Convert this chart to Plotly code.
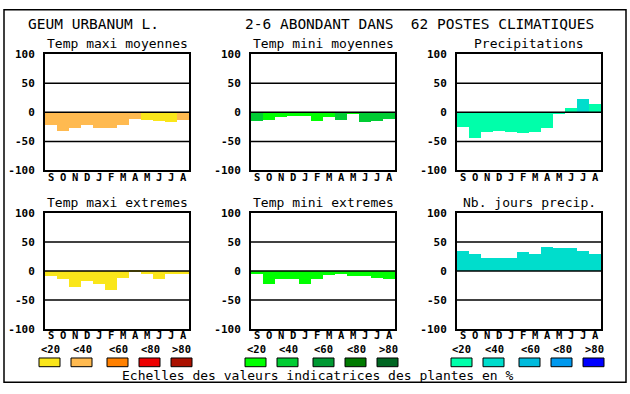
import plotly.graph_objects as go

W, H = 630, 394

months = ["S", "O", "N", "D", "J", "F", "M", "A", "M", "J", "J", "A"]
yticks = [100, 50, 0, -50, -100]
legend_labels = ["<20", "<40", "<60", "<80", ">80"]

titles = ["Temp maxi moyennes", "Temp mini moyennes", "Precipitations",
          "Temp maxi extremes", "Temp mini extremes", "Nb. jours precip."]

tmax_moy = [-23, -32, -28, -22, -27, -27, -22, -12, -13, -15, -18, -13]
tmax_moy_cls = [1, 1, 1, 1, 1, 1, 1, 1, 0, 0, 0, 1]
tmin_moy = [-15, -13, -8, -6, -6, -15, -8, -13, -4, -18, -15, -12]
tmin_moy_cls = [1, 0, 0, 0, 0, 0, 0, 1, 0, 1, 1, 1]
precip = [-25, -45, -35, -32, -35, -37, -35, -28, -3, 7, 23, 13]
precip_cls = [0, 0, 0, 0, 0, 0, 0, 0, 0, 0, 1, 0]
tmax_ext = [-8, -13, -27, -18, -22, -32, -12, 2, -5, -13, -5, -5]
tmax_ext_cls = [0] * 12
tmin_ext = [-5, -22, -13, -13, -23, -13, -7, -5, -8, -8, -12, -13]
tmin_ext_cls = [0] * 12
nb_jours = [35, 30, 23, 23, 23, 33, 30, 42, 40, 40, 35, 30]
nb_jours_cls = [1] * 12

pal_temp_max = ["#FAE61A", "#FFBA50", "#FF8000", "#EE0000", "#AA1000"]
pal_temp_min = ["#00FF00", "#00CC33", "#009933", "#007A00", "#006622"]
pal_precip = ["#00FFAA", "#00DDCC", "#00BBDD", "#0099EE", "#0000FF"]

series = [
    (tmax_moy, tmax_moy_cls, pal_temp_max),
    (tmin_moy, tmin_moy_cls, pal_temp_min),
    (precip, precip_cls, pal_precip),
    (tmax_ext, tmax_ext_cls, pal_temp_max),
    (tmin_ext, tmin_ext_cls, pal_temp_min),
    (nb_jours, nb_jours_cls, pal_precip),
]

MONO = "DejaVu Sans Mono"

def px(x):
    return x / W

def py(y):
    return 1 - y / H

col_left = [45, 251, 457]
row_top = [50, 214]
PW, PH = 144, 120

fig = go.Figure()
layout = dict(
    width=W, height=H, margin=dict(l=0, r=0, t=0, b=0),
    paper_bgcolor="white", plot_bgcolor="white", showlegend=False,
    bargap=0, font=dict(family=MONO, color="black"),
)
shapes = []
annotations = []

for i, (vals, cls, pal) in enumerate(series):
    r, c = divmod(i, 3)
    n = i + 1
    xa = "x" if n == 1 else f"x{n}"
    ya = "y" if n == 1 else f"y{n}"
    fig.add_trace(go.Bar(
        x=list(range(12)), y=vals, width=1,
        marker=dict(color=[pal[k] for k in cls], line=dict(width=0)),
        xaxis=xa, yaxis=ya, hoverinfo="skip",
    ))
    x0 = col_left[c]
    y0 = row_top[r]
    layout["xaxis" if n == 1 else f"xaxis{n}"] = dict(
        domain=[px(x0), px(x0 + PW)], anchor=ya, range=[-0.5, 11.5],
        showticklabels=False, ticks="",
        showgrid=False, zeroline=False, showline=True, mirror=True,
        linecolor="black", linewidth=2, fixedrange=True,
    )
    layout["yaxis" if n == 1 else f"yaxis{n}"] = dict(
        domain=[py(y0 + PH), py(y0)], anchor=xa, range=[-100, 100],
        tickmode="array", tickvals=yticks, ticktext=[str(v) for v in yticks],
        showgrid=False, zeroline=False, showline=True, mirror=True,
        linecolor="black", linewidth=2, ticks="",
        tickfont=dict(family=MONO, size=11, color="black", weight="bold"),
        ticklabelstandoff=6, fixedrange=True,
    )
    for gv in (50, 0, -50):
        shapes.append(dict(type="line", xref=f"{xa} domain", x0=0, x1=1,
                           yref=ya, y0=gv, y1=gv,
                           line=dict(color="black", width=1.5), layer="above"))
    # month letters under each bar
    for m, lab in enumerate(months):
        annotations.append(dict(
            text=lab, xref=xa, x=m, yref="paper", y=py(y0 + PH + 6.5),
            xanchor="center", yanchor="middle", showarrow=False,
            font=dict(family=MONO, size=10.5, color="black", weight="bold"),
        ))
    annotations.append(dict(
        text=titles[i], xref="paper", yref="paper",
        x=px(x0 + PW / 2), y=py(y0 - 11), xanchor="center", yanchor="middle",
        showarrow=False, font=dict(family=MONO, size=13, color="black"),
    ))

# legend swatches under each column
box_off = [-6, 26, 62, 94, 126]
pals = [pal_temp_max, pal_temp_min, pal_precip]
for c in range(3):
    for k in range(5):
        bx = col_left[c] + box_off[k]
        shapes.append(dict(type="rect", xref="paper", yref="paper",
                           x0=px(bx), x1=px(bx + 21), y0=py(373), y1=py(364),
                           fillcolor=pals[c][k], line=dict(color="black", width=1)))
        annotations.append(dict(
            text=legend_labels[k], xref="paper", yref="paper",
            x=px(bx + 11), y=py(354.5), xanchor="center", yanchor="middle",
            showarrow=False,
            font=dict(family=MONO, size=10.5, color="black", weight="bold"),
        ))

# outer frame
shapes.append(dict(type="rect", xref="paper", yref="paper",
                   x0=px(4), x1=px(626), y0=py(389), y1=py(4),
                   line=dict(color="black", width=1.5)))

annotations.append(dict(text="GEUM URBANUM L.", xref="paper", yref="paper",
                        x=px(26), y=py(19), xanchor="left", yanchor="middle",
                        showarrow=False,
                        font=dict(family=MONO, size=14.5, color="black")))
annotations.append(dict(text="2-6 ABONDANT DANS  62 POSTES CLIMATIQUES",
                        xref="paper", yref="paper",
                        x=px(243), y=py(19), xanchor="left", yanchor="middle",
                        showarrow=False,
                        font=dict(family=MONO, size=14.5, color="black")))
annotations.append(dict(text="Echelles des valeurs indicatrices des plantes en %",
                        xref="paper", yref="paper",
                        x=px(318), y=py(382), xanchor="center", yanchor="middle",
                        showarrow=False,
                        font=dict(family=MONO, size=13, color="black")))

layout["shapes"] = shapes
layout["annotations"] = annotations
fig.update_layout(**layout)
fig.write_html(
    "out.html",
    config={"displayModeBar": False},
    post_script="document.body.style.margin='0';document.body.style.padding='0';"
                "document.body.style.overflow='hidden';",
)
